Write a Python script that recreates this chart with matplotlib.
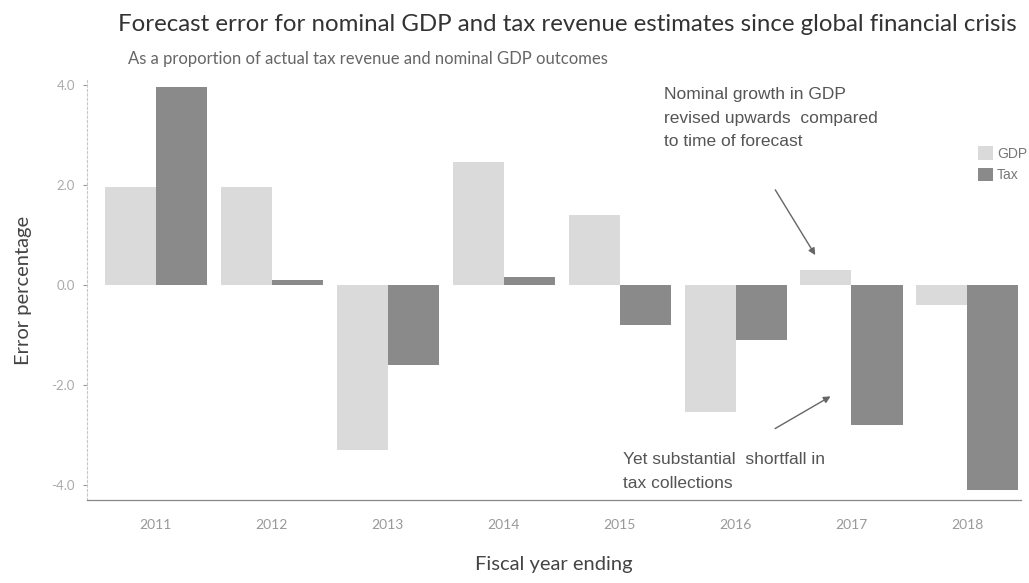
import numpy as np
import matplotlib.pyplot as plt

years = ["2011", "2012", "2013", "2014", "2015", "2016", "2017", "2018"]
gdp_error = [1.95, 1.95, -3.3, 2.45, 1.4, -2.55, 0.3, -0.4]
tax_error = [3.95, 0.1, -1.6, 0.15, -0.8, -1.1, -2.8, -4.1]
y_ticks = [4.0, 2.0, 0.0, -2.0, -4.0]

GDP_COLOR = "#dadada"
TAX_COLOR = "#8a8a8a"
TEXT_COLOR = "#555555"


def main():
    fig = plt.figure(figsize=(10.29, 5.83), dpi=100)
    ax = fig.add_axes([0.085, 0.1424, 0.907, 0.7204])

    x = np.arange(len(years))
    width = 0.44
    ax.bar(x - width / 2, gdp_error, width, color=GDP_COLOR, label="GDP")
    ax.bar(x + width / 2, tax_error, width, color=TAX_COLOR, label="Tax")

    ax.set_xlim(-0.59, 7.46)
    ax.set_ylim(-4.3, 4.1)
    ax.set_xticks(x)
    ax.set_xticklabels(years, family="Lato", fontsize=10, color="#999999")
    ax.set_yticks(y_ticks)
    ax.set_yticklabels([f"{v:.1f}" for v in y_ticks], family="Lato",
                       fontsize=9.5, color="#aaaaaa")
    ax.tick_params(axis="x", length=0, pad=14)
    ax.tick_params(axis="y", length=3, color="#999999", pad=6)

    for side in ("top", "right"):
        ax.spines[side].set_visible(False)
    ax.spines["left"].set_color("#c8c8c8")
    ax.spines["left"].set_linestyle((0, (2, 2)))
    ax.spines["left"].set_linewidth(0.8)
    ax.spines["bottom"].set_color("#888888")
    ax.spines["bottom"].set_linewidth(0.9)

    ax.set_xlabel("Fiscal year ending", family="Lato", fontsize=14.5,
                  color="#444444", labelpad=18)
    ax.set_ylabel("Error percentage", family="Lato", fontsize=14.5,
                  color="#444444", labelpad=14)

    fig.text(0.115, 0.958, "Forecast error for nominal GDP and tax revenue "
             "estimates since global financial crisis",
             family="Lato", fontsize=17.3, color="#333333", va="center")
    fig.text(0.124, 0.898, "As a proportion of actual tax revenue and "
             "nominal GDP outcomes", family="Lato", fontsize=12,
             color="#666666", va="center")

    ax.legend(loc="upper left", bbox_to_anchor=(0.948, 0.855), frameon=False,
              prop={"family": "Liberation Sans", "size": 10},
              labelcolor="#777777", handlelength=1.1, handleheight=1.1,
              handletextpad=0.3, labelspacing=0.5, borderaxespad=0)

    ax.annotate("Nominal growth in GDP\nrevised upwards  compared\n"
                "to time of forecast",
                xy=(5.7, 0.55), xytext=(4.38, 3.95),
                family="Liberation Sans", fontsize=12.5, color=TEXT_COLOR,
                va="top", ha="left", linespacing=1.7)
    ax.annotate("", xy=(5.7, 0.55), xytext=(5.33, 1.95),
                arrowprops=dict(arrowstyle="-|>", color="#666666", lw=1.0,
                                mutation_scale=10))

    ax.annotate("Yet substantial  shortfall in\ntax collections",
                xy=(5.84, -2.2), xytext=(4.03, -3.35),
                family="Liberation Sans", fontsize=12.5, color=TEXT_COLOR,
                va="top", ha="left", linespacing=1.7)
    ax.annotate("", xy=(5.84, -2.2), xytext=(5.32, -2.9),
                arrowprops=dict(arrowstyle="-|>", color="#666666", lw=1.0,
                                mutation_scale=10))

    fig.savefig("out.png", dpi=100)


if __name__ == "__main__":
    main()
